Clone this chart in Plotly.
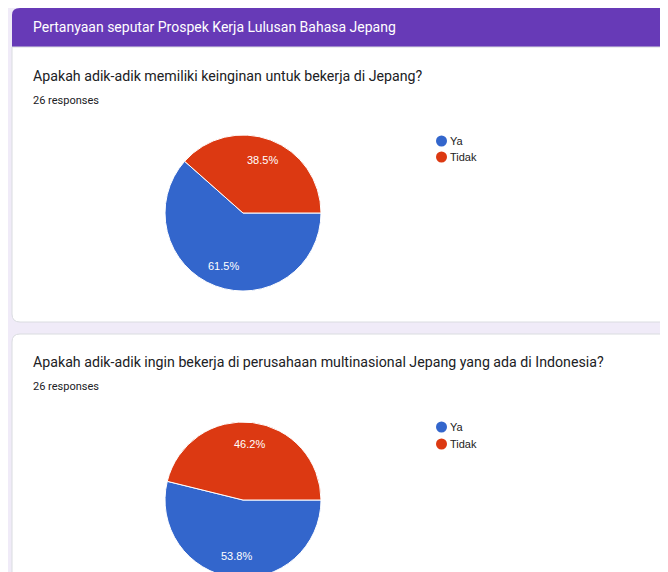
import math
import plotly.graph_objects as go

# page body margin offset (the figure sits 8px in from the window corner)
OFF = 8
W, H = 668, 572

header_title = "Pertanyaan seputar Prospek Kerja Lulusan Bahasa Jepang"
questions = [
    "Apakah adik-adik memiliki keinginan untuk bekerja di Jepang?",
    "Apakah adik-adik ingin bekerja di perusahaan multinasional Jepang yang ada di Indonesia?",
]
responses_text = "26 responses"
labels = ["Ya", "Tidak"]
q1_counts = [16, 10]
q2_counts = [14, 12]
colors = ["#3366cc", "#dc3912"]


def fx(x):
    return min(1.0, max(0.0, (x - OFF) / W))


def fy(y):
    return min(1.0, max(0.0, 1 - (y - OFF) / H))


fig = go.Figure()

annotations = []

# pies (start at 3 o'clock, clockwise)
pie_boxes = [(165, 321, 135, 291), (165, 321, 422, 578)]
for counts, (x0, x1, y0, y1) in zip([q1_counts, q2_counts], pie_boxes):
    fig.add_trace(go.Pie(
        labels=labels, values=counts, sort=False, direction="clockwise",
        rotation=90, textinfo="none",
        marker=dict(colors=colors, line=dict(color="white", width=1)),
        domain=dict(x=[fx(x0), fx(x1)], y=[fy(y1), fy(y0)]),
        showlegend=False, hoverinfo="label+percent",
    ))
    # percentage labels placed along each slice bisector (computed from the data)
    cx, cy, r = (x0 + x1) / 2, (y0 + y1) / 2, (x1 - x0) / 2
    total = sum(counts)
    start = 0.0
    for v in counts:
        frac = v / total
        mid = (start + frac / 2) * 2 * math.pi
        start += frac
        tx = cx + 0.72 * r * math.cos(mid)
        ty = cy + 0.72 * r * math.sin(mid)
        annotations.append(dict(text=f"{frac * 100:.1f}%", x=fx(tx), y=fy(ty), xref="paper", yref="paper",
                                xanchor="center", yanchor="middle", showarrow=False,
                                font=dict(family="Liberation Sans, Arial", size=11, color="white")))

shapes = []
# lavender page background
shapes.append(dict(type="rect", xref="paper", yref="paper", x0=fx(8), x1=fx(690),
                   y0=fy(590), y1=fy(7), fillcolor="#f0ebf8", line=dict(width=0), layer="below"))


def rounded_path(x0, y0, x1, y1, r_tl=0, r_bl=0):
    p = f"M {fx(x0 + r_tl)},{fy(y0)} L {fx(x1)},{fy(y0)} L {fx(x1)},{fy(y1)} L {fx(x0 + r_bl)},{fy(y1)} "
    if r_bl:
        p += f"Q {fx(x0)},{fy(y1)} {fx(x0)},{fy(y1 - r_bl)} "
    p += f"L {fx(x0)},{fy(y0 + r_tl)} "
    if r_tl:
        p += f"Q {fx(x0)},{fy(y0)} {fx(x0 + r_tl)},{fy(y0)} "
    p += "Z"
    return p


# header
shapes.append(dict(type="path", xref="paper", yref="paper", path=rounded_path(12, 7, 690, 47, r_tl=8),
                   fillcolor="#673ab7", line=dict(width=0), layer="below"))
# card 1
shapes.append(dict(type="path", xref="paper", yref="paper", path=rounded_path(12, 47, 690, 322, r_bl=8),
                   fillcolor="white", line=dict(color="#dadce0", width=1), layer="below"))
# card 2
shapes.append(dict(type="path", xref="paper", yref="paper", path=rounded_path(12, 334, 690, 590, r_tl=8),
                   fillcolor="white", line=dict(color="#dadce0", width=1), layer="below"))

annotations.append(dict(text=header_title, x=fx(31), y=fy(27), xref="paper", yref="paper",
                        xanchor="left", yanchor="middle", showarrow=False,
                        font=dict(family="Roboto", size=14, color="white")))
q_y = [(76, 100), (362, 386)]
for q, (yq, yr) in zip(questions, q_y):
    annotations.append(dict(text=q, x=fx(31), y=fy(yq), xref="paper", yref="paper",
                            xanchor="left", yanchor="middle", showarrow=False,
                            font=dict(family="Roboto", size=14.2, color="#202124")))
    annotations.append(dict(text=responses_text, x=fx(31), y=fy(yr), xref="paper", yref="paper",
                            xanchor="left", yanchor="middle", showarrow=False,
                            font=dict(family="Roboto", size=11, color="#202124")))

# legends (circle markers + text)
legend_y = [(141, 157), (427, 444)]
for ys in legend_y:
    for lab, col, yy in zip(labels, colors, ys):
        shapes.append(dict(type="circle", xref="paper", yref="paper",
                           x0=fx(436), x1=fx(447), y0=fy(yy + 5.5), y1=fy(yy - 5.5),
                           fillcolor=col, line=dict(width=0)))
        annotations.append(dict(text=lab, x=fx(448), y=fy(yy), xref="paper", yref="paper",
                                xanchor="left", yanchor="middle", showarrow=False,
                                font=dict(family="Liberation Sans, Arial", size=11, color="#222222")))

fig.update_layout(
    autosize=False, width=W, height=H, margin=dict(l=0, r=0, t=0, b=0),
    paper_bgcolor="white", plot_bgcolor="white",
    shapes=shapes, annotations=annotations,
)

fig.write_html("out.html")
